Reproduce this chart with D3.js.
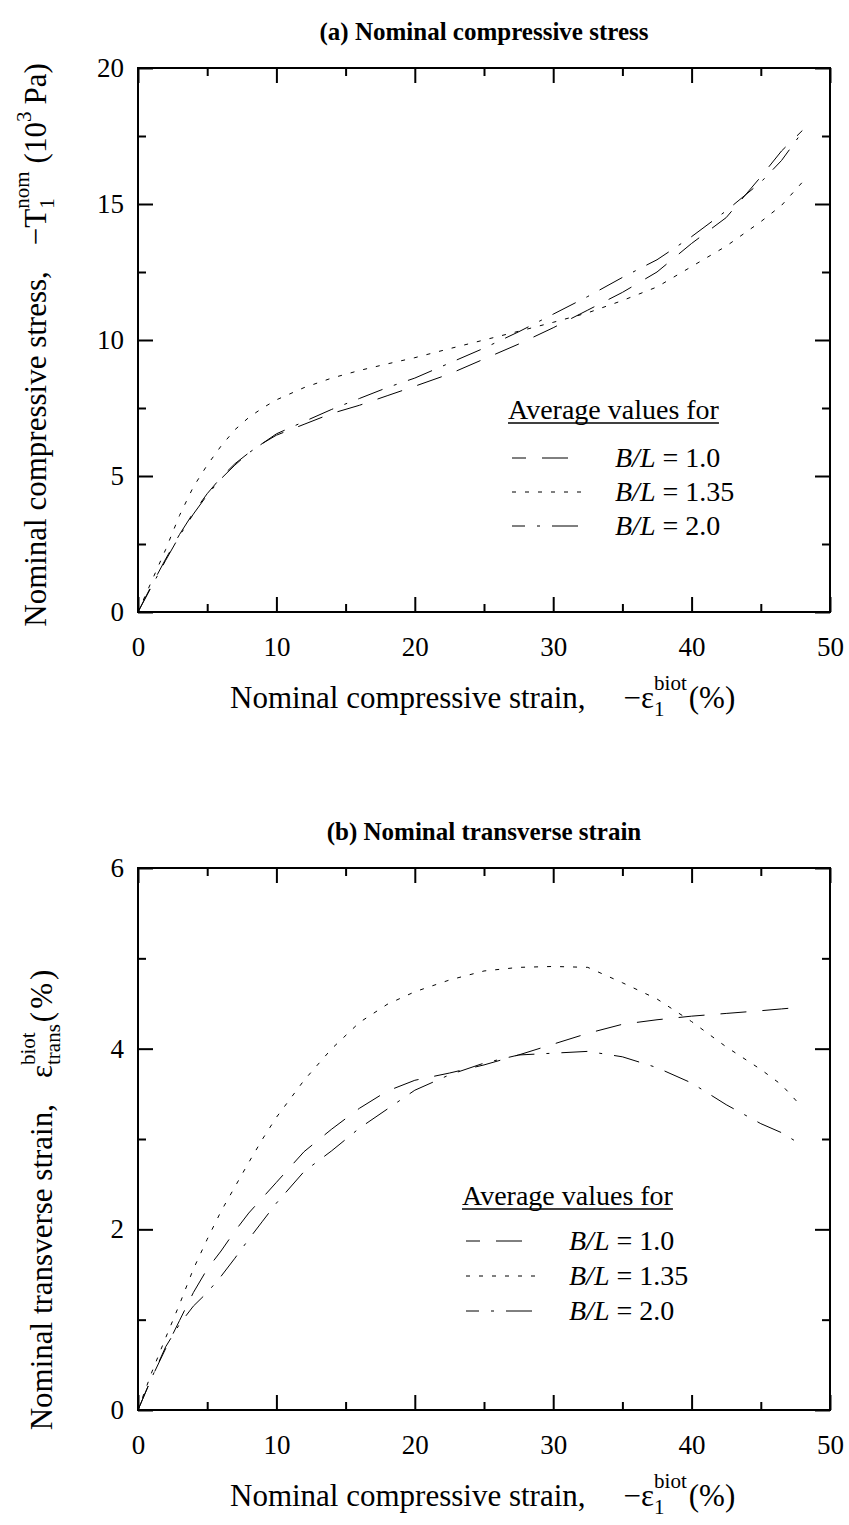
<!DOCTYPE html>
<html>
<head>
<meta charset="utf-8">
<script src="https://cdn.jsdelivr.net/npm/d3@7"></script>
<style>
  body { margin: 0; background: #fff; }
  text { font-family: 'Liberation Serif', 'Times New Roman', serif; }
</style>
</head>
<body>
<script>
// strain values (%), shared x grid for both panels
const strain = [0,1,2,3,4,5,6,7,8,9,10,12,14,16,18,20,22.5,25,27.5,30,32.5,35,37.5,40,42.5,45,46.5,48];

// (a) nominal compressive stress (10^3 Pa)
const stressBL10  = [0,1.0,1.95,2.85,3.65,4.35,4.95,5.45,5.85,6.2,6.5,6.9,7.3,7.6,7.95,8.3,8.75,9.3,9.85,10.45,11.1,11.75,12.5,13.55,14.5,16.0,16.95,17.7];
const stressBL135 = [0,1.15,2.3,3.55,4.6,5.4,6.1,6.7,7.15,7.5,7.8,8.25,8.6,8.88,9.12,9.35,9.68,10.0,10.32,10.65,11.0,11.45,11.95,12.7,13.45,14.35,14.95,15.8];
const stressBL20  = [0,0.95,1.9,2.8,3.6,4.3,4.9,5.4,5.85,6.2,6.55,7.0,7.45,7.85,8.25,8.6,9.15,9.7,10.3,10.95,11.6,12.3,12.95,13.8,14.75,15.8,16.6,17.65];

// (b) nominal transverse strain (%)
const transBL10  = [0,0.36,0.68,0.99,1.3,1.56,1.76,1.98,2.18,2.35,2.52,2.86,3.11,3.34,3.53,3.65,3.73,3.82,3.93,4.05,4.17,4.27,4.32,4.36,4.39,4.42,4.44,4.46];
const transBL135 = [0,0.42,0.8,1.17,1.56,1.89,2.2,2.47,2.74,3.0,3.24,3.65,4.0,4.29,4.49,4.63,4.76,4.86,4.9,4.91,4.9,4.73,4.55,4.3,4.02,3.77,3.6,3.35];
const transBL20  = [0,0.36,0.7,0.95,1.15,1.3,1.48,1.68,1.89,2.09,2.29,2.64,2.87,3.12,3.33,3.54,3.71,3.84,3.93,3.95,3.97,3.91,3.79,3.62,3.38,3.17,3.07,2.93];

const legendLabels = ["1.0", "1.35", "2.0"];
const xMajor = [0,10,20,30,40,50];
const xMinor = [5,15,25,35,45];

const serif = "'Liberation Serif', 'Times New Roman', serif";
const dashes = ["26,16", "4,9", "26,12,3,12"];
const legendOffset = [12, 0, 13];
const legendLen = [56, 75, 66];

const W = 849, H = 1525;
const left = 138, right = 830;

const svg = d3.select("body").append("svg")
    .attr("width", W)
    .attr("height", H)
    .attr("font-family", serif);
svg.append("rect").attr("width", W).attr("height", H).attr("fill", "#fff");

// text made of pieces (subscripts / superscripts), returns total width
function rich(g, pieces) {
    let cur = 0, lastStart = 0;
    pieces.forEach(function(p) {
        const start = p.stack ? lastStart : cur + (p.gap || 0);
        const t = g.append("text")
            .attr("x", start)
            .attr("y", -(p.shift || 0))
            .attr("font-size", p.size)
            .attr("font-style", p.italic ? "italic" : null)
            .attr("fill", "#000")
            .text(p.t);
        const w = t.node().getComputedTextLength();
        if (!p.stack) lastStart = start;
        cur = Math.max(cur, start + w);
    });
    return cur;
}

function addAxis(g, axisFn, scale, pos, values, size, pad, labels) {
    const a = axisFn(scale).tickValues(values).tickSize(-size).tickPadding(pad)
        .tickFormat(labels ? d3.format("d") : "");
    const ag = g.append("g").attr("transform", pos).call(a);
    ag.attr("font-family", serif);
    ag.select(".domain").remove();
    ag.selectAll("line").attr("stroke", "#000").attr("stroke-width", 2);
    ag.selectAll("text")
        .style("font-family", serif)
        .attr("font-size", 27)
        .attr("fill", "#000");
}

function panel(opt) {
    const x = d3.scaleLinear().domain([0, 50]).range([left, right]);
    const y = d3.scaleLinear().domain([0, opt.yMax]).range([opt.bottom, opt.top]);
    const g = svg.append("g");

    // title
    g.append("text")
        .attr("x", (left + right) / 2)
        .attr("y", opt.top - 28)
        .attr("text-anchor", "middle")
        .attr("font-size", 25)
        .attr("font-weight", "bold")
        .text(opt.title);

    // ticks on all four sides, pointing inward
    addAxis(g, d3.axisBottom, x, `translate(0,${opt.bottom})`, xMajor, 15, 25, true);
    addAxis(g, d3.axisBottom, x, `translate(0,${opt.bottom})`, xMinor, 8, 25, false);
    addAxis(g, d3.axisTop, x, `translate(0,${opt.top})`, xMajor, 15, 0, false);
    addAxis(g, d3.axisTop, x, `translate(0,${opt.top})`, xMinor, 8, 0, false);
    addAxis(g, d3.axisLeft, y, `translate(${left},0)`, opt.yMajor, 15, 14, true);
    addAxis(g, d3.axisLeft, y, `translate(${left},0)`, opt.yMinor, 8, 14, false);
    addAxis(g, d3.axisRight, y, `translate(${right},0)`, opt.yMajor, 15, 0, false);
    addAxis(g, d3.axisRight, y, `translate(${right},0)`, opt.yMinor, 8, 0, false);

    g.append("rect")
        .attr("x", left).attr("y", opt.top)
        .attr("width", right - left).attr("height", opt.bottom - opt.top)
        .attr("fill", "none").attr("stroke", "#000").attr("stroke-width", 2);

    // curves
    const line = d3.line()
        .x(function(d, i) { return x(strain[i]); })
        .y(function(d) { return y(d); });
    opt.series.forEach(function(s, i) {
        g.append("path")
            .datum(s)
            .attr("d", line)
            .attr("fill", "none")
            .attr("stroke", "#000")
            .attr("stroke-width", 1)
            .attr("stroke-dasharray", dashes[i]);
    });

    // legend
    const lg = g.append("g").attr("transform", `translate(${opt.legX},${opt.legY})`);
    const head = lg.append("text").attr("font-size", 28).text("Average values for");
    const hw = head.node().getComputedTextLength();
    lg.append("line").attr("x1", 0).attr("x2", hw).attr("y1", 4).attr("y2", 4)
        .attr("stroke", "#000").attr("stroke-width", 1.5);
    legendLabels.forEach(function(lab, i) {
        const ry = opt.legRow0 + i * opt.legStep;
        lg.append("line")
            .attr("x1", 4).attr("x2", 4 + legendLen[i])
            .attr("y1", ry - 9).attr("y2", ry - 9)
            .attr("stroke", "#000").attr("stroke-width", 1)
            .attr("stroke-dasharray", dashes[i])
            .attr("stroke-dashoffset", legendOffset[i]);
        const t = lg.append("text").attr("x", 107).attr("y", ry).attr("font-size", 28);
        t.append("tspan").attr("font-style", "italic").text("B/L");
        t.append("tspan").text(" = " + lab);
    });

    // x axis title
    const xt = g.append("g").attr("transform", `translate(230,${opt.bottom + 96})`);
    rich(xt, [
        {t: "Nominal compressive strain,", size: 31},
        {t: "\u2212\u03b5", size: 31, gap: 38},
        {t: "1", size: 21, shift: -8},
        {t: "biot", size: 21, shift: 18, stack: true},
        {t: "(%)", size: 31, gap: 2}
    ]);

    // y axis title (rotated)
    const yt = g.append("g");
    const len = rich(yt, opt.yPieces);
    yt.attr("transform", `translate(${opt.yTitleX},${opt.yTitleC + len / 2}) rotate(-90)`);
}

panel({
    title: "(a) Nominal compressive stress",
    top: 68, bottom: 612, yMax: 20,
    yMajor: [0,5,10,15,20], yMinor: [2.5,7.5,12.5,17.5],
    series: [stressBL10, stressBL135, stressBL20],
    legX: 508, legY: 419, legRow0: 48, legStep: 34,
    yTitleX: 46, yTitleC: 345,
    yPieces: [
        {t: "Nominal compressive stress,", size: 31},
        {t: "\u2212T", size: 31, gap: 26},
        {t: "1", size: 21, shift: -8},
        {t: "nom", size: 21, shift: 17, stack: true},
        {t: "(10", size: 31, gap: 8},
        {t: "3", size: 21, shift: 15},
        {t: "Pa)", size: 31, gap: 7}
    ]
});

panel({
    title: "(b) Nominal transverse strain",
    top: 868, bottom: 1410, yMax: 6,
    yMajor: [0,2,4,6], yMinor: [1,3,5],
    series: [transBL10, transBL135, transBL20],
    legX: 462, legY: 1205, legRow0: 45, legStep: 35,
    yTitleX: 52, yTitleC: 1200,
    yPieces: [
        {t: "Nominal transverse strain,", size: 31},
        {t: "\u03b5", size: 31, gap: 26},
        {t: "trans", size: 21, shift: -8},
        {t: "biot", size: 21, shift: 17, stack: true},
        {t: "(", size: 31, gap: 2},
        {t: "%", size: 31, gap: 3},
        {t: ")", size: 31, gap: 3}
    ]
});
</script>
</body>
</html>
